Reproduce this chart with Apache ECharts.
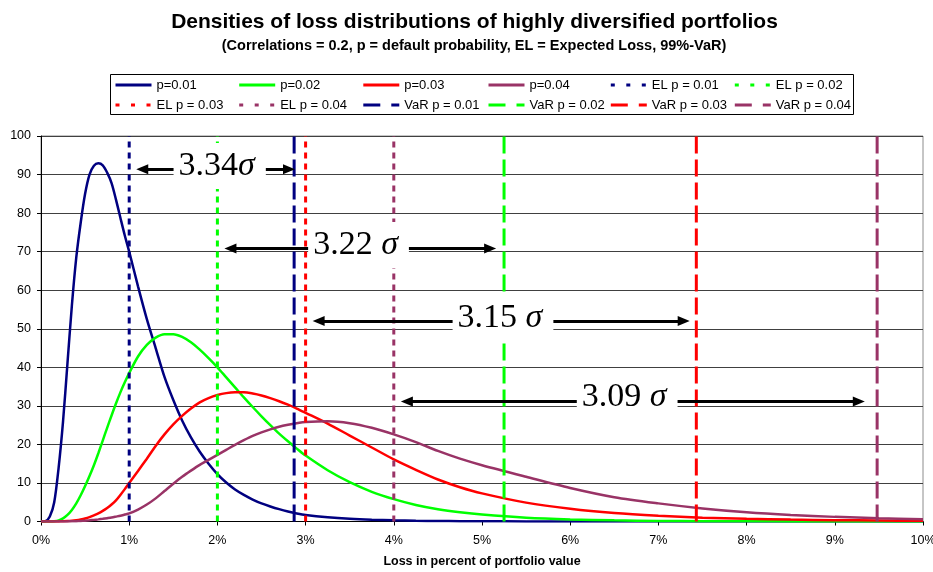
<!DOCTYPE html>
<html><head><meta charset="utf-8">
<script src="https://cdn.jsdelivr.net/npm/echarts@6/dist/echarts.min.js"></script>
<style>html,body{margin:0;padding:0;background:#fff}#c{width:933px;height:572px}</style>
</head><body><div id="c"></div>
<script>
// ---- data ----
const lossPct = [0, 0.05, 0.1, 0.15, 0.2, 0.25, 0.3, 0.35, 0.4, 0.45,
  0.5, 0.55, 0.6, 0.65, 0.7, 0.75, 0.8, 0.85, 0.9, 0.95,
  1.0, 1.1, 1.2, 1.3, 1.4, 1.5, 1.6, 1.7, 1.8, 1.9,
  2.0, 2.1, 2.2, 2.3, 2.4, 2.5, 2.6, 2.7, 2.8, 2.9,
  3.0, 3.25, 3.5, 3.75, 4.0, 4.25, 4.5, 4.75,
  5.0, 5.5, 6.0, 6.5, 7.0, 7.5, 8.0, 8.5, 9.0, 9.5, 10.0];
const densP01 = [0, 0.1, 1.3, 5, 14, 26, 41, 56, 68.5, 77.5,
  85, 90, 92.3, 92.9, 92.4, 90.5, 87.8, 83.5, 78.8, 74.2,
  70, 61, 52.5, 45, 37.5, 31.5, 26.2, 21.8, 18.1, 15,
  12.3, 10.1, 8.3, 6.9, 5.7, 4.7, 3.9, 3.2, 2.6, 2.1,
  1.7, 1.1, 0.7, 0.45, 0.3, 0.2, 0.13, 0.09,
  0.06, 0.03, 0.015, 0.01, 0.005, 0, 0, 0, 0, 0, 0];
const densP02 = [0, 0, 0, 0.08, 0.3, 0.8, 1.7, 3.0, 4.7, 6.8,
  9.2, 11.8, 14.6, 17.7, 21.0, 24.3, 27.5, 30.6, 33.5, 36.1,
  38.5, 42.8, 45.8, 47.7, 48.6, 48.6, 47.9, 46.5, 44.6, 42.4,
  40.0, 37.4, 34.8, 32.2, 29.7, 27.3, 25.0, 22.8, 20.8, 18.9,
  17.1, 13.3, 10.2, 7.7, 5.8, 4.3, 3.2, 2.4,
  1.8, 1.0, 0.55, 0.3, 0.16, 0.09, 0.05, 0.03, 0.02, 0.01, 0.01];
const densP03 = [0, 0, 0, 0, 0.02, 0.05, 0.1, 0.2, 0.35, 0.55,
  0.8, 1.15, 1.6, 2.1, 2.75, 3.5, 4.4, 5.5, 6.9, 8.4,
  10, 13.1, 16.3, 19.6, 22.6, 25.2, 27.4, 29.3, 30.9, 32.0,
  32.8, 33.3, 33.5, 33.5, 33.2, 32.7, 32.0, 31.2, 30.3, 29.3,
  28.2, 25.4, 22.3, 19.2, 16.1, 13.4, 10.9, 8.9,
  7.3, 4.9, 3.3, 2.2, 1.5, 1.0, 0.7, 0.5, 0.35, 0.25, 0.17];
const densP04 = [0, 0, 0, 0, 0, 0, 0.03, 0.05, 0.09, 0.15,
  0.22, 0.31, 0.42, 0.55, 0.7, 0.87, 1.05, 1.27, 1.5, 1.8,
  2.1, 3.1, 4.4, 6.0, 7.9, 9.8, 11.6, 13.2, 14.7, 16.0,
  17.3, 18.6, 19.9, 21.1, 22.2, 23.1, 23.9, 24.6, 25.1, 25.5,
  25.8, 26.0, 25.5, 24.3, 22.6, 20.6, 18.3, 16.3,
  14.6, 11.6, 8.7, 6.3, 4.7, 3.4, 2.4, 1.7, 1.2, 0.85, 0.6];
const elLoss = [1, 2, 3, 4];              // expected loss, %
const varLoss = [2.87, 5.25, 7.43, 9.48]; // 99%-VaR, %
const curveNames = ['p=0.01', 'p=0.02', 'p=0.03', 'p=0.04'];
const elNames = ['EL p = 0.01', 'EL p = 0.02', 'EL p = 0.03', 'EL p = 0.04'];
const varNames = ['VaR p = 0.01', 'VaR p = 0.02', 'VaR p = 0.03', 'VaR p = 0.04'];
const sigmaTexts = ['3.34', '3.22 ', '3.15 ', '3.09 '];
const arrowTipLeft = [1.08, 2.08, 3.08, 4.08];
const arrowTipRight = [2.88, 5.16, 7.355, 9.34];
const arrowLevel = [91.4, 70.8, 52.0, 31.1];
const sigmaX = [2.026, 3.60, 5.238, 6.646];
const sigmaY = [92.2, 71.7, 52.8, 32.4];
const xTicks = [0, 10, 1];   // min, max, step (%)
const yTicks = [0, 100, 10];

// ---- styling ----
const colors = ['#000080', '#00FF00', '#FF0000', '#993366'];
const SANS = '"Liberation Sans", Arial, sans-serif';
const SERIF = '"Liberation Serif", "Times New Roman", serif';
const headInset = 0.068;

const dens = [densP01, densP02, densP03, densP04];
const series = [];
dens.forEach((d, i) => series.push({
  name: curveNames[i], type: 'line', symbol: 'none', smooth: 0.3, silent: true, z: 2,
  data: lossPct.map((x, k) => [x, d[k]]),
  lineStyle: { color: colors[i], width: 2.5 }, itemStyle: { color: colors[i] }
}));
elLoss.forEach((x, i) => series.push({
  name: elNames[i], type: 'line', symbol: 'none', silent: true, z: 3,
  data: [[x, yTicks[0]], [x, yTicks[1]]],
  lineStyle: { color: colors[i], width: 3, type: [6, 5] }, itemStyle: { color: colors[i] }
}));
varLoss.forEach((x, i) => series.push({
  name: varNames[i], type: 'line', symbol: 'none', silent: true, z: 3,
  data: [[x, yTicks[0]], [x, yTicks[1]]],
  lineStyle: { color: colors[i], width: 3, type: [17, 6] }, itemStyle: { color: colors[i] }
}));
series.push({
  name: 'arrows', type: 'line', data: [], silent: true, z: 5,
  markLine: {
    silent: true, z: 5, symbol: ['triangle', 'triangle'], symbolSize: [10, 12],
    lineStyle: { color: '#000', width: 3, type: 'solid' }, itemStyle: { color: '#000' },
    label: { show: false }, emphasis: { disabled: true },
    data: arrowTipLeft.map((a, i) => [
      { coord: [a + headInset, arrowLevel[i]] },
      { coord: [arrowTipRight[i] - headInset, arrowLevel[i]] }])
  }
});
series.push({
  name: 'sigma', type: 'line', data: [], silent: true, z: 6,
  markPoint: {
    silent: true, z: 6, symbol: 'rect', symbolSize: 1,
    itemStyle: { color: 'rgba(0,0,0,0)' },
    label: {
      show: true, position: 'inside', backgroundColor: '#fff', padding: [4, 11, 4, 5],
      rich: {
        n: { fontFamily: SERIF, fontSize: 34, color: '#000', lineHeight: 38 },
        s: { fontFamily: SERIF, fontSize: 34, color: '#000', lineHeight: 38, fontStyle: 'italic' }
      }
    },
    data: sigmaX.map((x, i) => ({
      coord: [x, sigmaY[i]], value: sigmaTexts[i],
      label: { formatter: '{n|' + sigmaTexts[i] + '}{s|σ}' }
    }))
  }
});

const legendX = [114, 237.7, 361.8, 487, 609.3, 733.3];
const legendTop = [78.5, 98.5];
const allNames = curveNames.concat(elNames, varNames);
const legends = allNames.map((n, i) => ({
  data: [n], left: legendX[i % 6], top: legendTop[Math.floor(i / 6)],
  padding: 0, itemWidth: 36, itemHeight: 14, itemGap: 0, selectedMode: false,
  textStyle: { fontFamily: SANS, fontSize: 13, color: '#000' },
  itemStyle: { opacity: 0 },
  lineStyle: { width: 3, type: i < 4 ? 'solid' : (i < 8 ? [4, 11.5] : [17, 11]) }
}));

const chart = echarts.init(document.getElementById('c'), null, { renderer: 'canvas' });
chart.setOption({
  animation: false,
  backgroundColor: '#fff',
  title: [
    { text: 'Densities of loss distributions of highly diversified portfolios',
      left: 474.5, top: 12, textAlign: 'center', padding: 0,
      textStyle: { fontFamily: SANS, fontSize: 21, fontWeight: 'bold', color: '#000' } },
    { text: '(Correlations = 0.2, p = default probability, EL = Expected Loss, 99%-VaR)',
      left: 474, top: 38, textAlign: 'center', padding: 0,
      textStyle: { fontFamily: SANS, fontSize: 14.5, fontWeight: 'bold', color: '#000' } }
  ],
  legend: legends,
  graphic: [{
    type: 'rect', silent: true, z: 0,
    shape: { x: 110.5, y: 74.5, width: 743, height: 40 },
    style: { fill: 'none', stroke: '#000', lineWidth: 1 }
  }],
  grid: { left: 41, right: 10, top: 136, bottom: 50.5, show: true, borderColor: '#8c8c8c', borderWidth: 1,
          containLabel: false, outerBoundsMode: 'none' },
  xAxis: {
    type: 'value', min: xTicks[0], max: xTicks[1], interval: xTicks[2],
    name: 'Loss in percent of portfolio value', nameLocation: 'middle', nameGap: 34,
    nameTextStyle: { fontFamily: SANS, fontSize: 12.5, fontWeight: 'bold', color: '#000' },
    axisLine: { show: true, onZero: false, lineStyle: { color: '#000', width: 1 } },
    axisTick: { show: true, length: 4, inside: false, lineStyle: { color: '#000' } },
    axisLabel: { formatter: '{value}%', fontFamily: SANS, fontSize: 12.5, color: '#000', margin: 13 },
    splitLine: { show: false }
  },
  yAxis: {
    type: 'value', min: yTicks[0], max: yTicks[1], interval: yTicks[2],
    axisLine: { show: true, lineStyle: { color: '#000', width: 1 } },
    axisTick: { show: true, length: 4, inside: false, lineStyle: { color: '#000' } },
    axisLabel: { fontFamily: SANS, fontSize: 12.5, color: '#000', margin: 10 },
    splitLine: { show: true, lineStyle: { color: '#404040', width: 1 } }
  },
  series: series
});
</script>
</body></html>
